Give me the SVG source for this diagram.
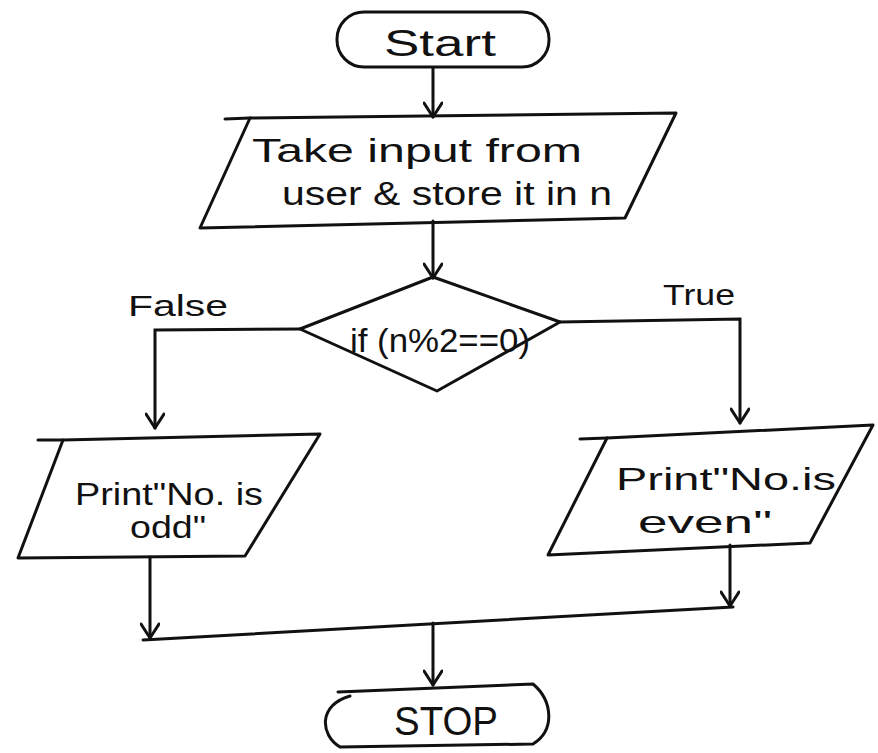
<svg xmlns="http://www.w3.org/2000/svg" width="878" height="753" viewBox="0 0 878 753">
  <defs>
    <style>
      .shape { fill: none; stroke: #111; stroke-width: 3; stroke-linejoin: round; stroke-linecap: round; }
      .wire { fill: none; stroke: #111; stroke-width: 3; stroke-linecap: round; }
      .lbl { font-family: "Liberation Sans", "DejaVu Sans", sans-serif; fill: #111; }
    </style>
    <!-- open V arrowhead, tip along the line direction -->
    <marker id="arrow" viewBox="0 0 20 20" refX="18" refY="10" markerWidth="20" markerHeight="20" markerUnits="userSpaceOnUse" orient="auto">
      <polyline points="4,1 18,10 4,19" fill="none" stroke="#111" stroke-width="3" stroke-linecap="round" stroke-linejoin="round"/>
    </marker>
  </defs>
  <rect width="878" height="753" fill="#fff"/>

  <!-- connectors -->
  <g id="connectors">
    <line class="wire" x1="433" y1="68" x2="433" y2="117" marker-end="url(#arrow)"/>
    <line class="wire" x1="433" y1="221" x2="433" y2="278" marker-end="url(#arrow)"/>
    <!-- false branch -->
    <polyline class="wire" points="300,329 155,330 155,428" marker-end="url(#arrow)"/>
    <!-- true branch -->
    <polyline class="wire" points="560,322 740,319 740,423" marker-end="url(#arrow)"/>
    <!-- outputs to merge line -->
    <line class="wire" x1="150" y1="557" x2="150" y2="638" marker-end="url(#arrow)"/>
    <line class="wire" x1="730" y1="545" x2="730" y2="606" marker-end="url(#arrow)"/>
    <line class="wire" x1="143" y1="640" x2="733" y2="607"/>
    <line class="wire" x1="433" y1="623" x2="433" y2="685" marker-end="url(#arrow)"/>
    <text class="lbl" x="178" y="316" font-size="30" text-anchor="middle" textLength="100" lengthAdjust="spacingAndGlyphs">False</text>
    <text class="lbl" x="699" y="305" font-size="30" text-anchor="middle" textLength="72" lengthAdjust="spacingAndGlyphs">True</text>
  </g>

  <!-- start terminal -->
  <g id="start">
    <rect class="shape" x="337" y="12" width="212" height="55" rx="27"/>
    <text class="lbl" x="440" y="56" font-size="36" text-anchor="middle" textLength="112" lengthAdjust="spacingAndGlyphs">Start</text>
  </g>

  <!-- input step -->
  <g id="input">
    <polygon class="shape" points="250,118 676,113 625,218 200,228"/>
    <line class="shape" x1="225" y1="119" x2="250" y2="118"/>
    <text class="lbl" x="417" y="162" font-size="34" text-anchor="middle" textLength="330" lengthAdjust="spacingAndGlyphs">Take input from</text>
    <text class="lbl" x="447" y="205" font-size="34" text-anchor="middle" textLength="330" lengthAdjust="spacingAndGlyphs">user &amp; store it in n</text>
  </g>

  <!-- decision -->
  <g id="decision">
    <polygon class="shape" points="433,277 560,322 437,391 300,329"/>
    <text class="lbl" x="440" y="352" font-size="34" text-anchor="middle" textLength="180" lengthAdjust="spacingAndGlyphs">if (n%2==0)</text>
  </g>

  <!-- odd output -->
  <g id="print-odd">
    <polygon class="shape" points="63,440 320,434 245,556 18,558"/>
    <line class="shape" x1="38" y1="440" x2="63" y2="440"/>
    <text class="lbl" x="169" y="505" font-size="32" text-anchor="middle" textLength="188" lengthAdjust="spacingAndGlyphs">Print"No. is</text>
    <text class="lbl" x="168" y="538" font-size="32" text-anchor="middle" textLength="76" lengthAdjust="spacingAndGlyphs">odd"</text>
  </g>

  <!-- even output -->
  <g id="print-even">
    <polygon class="shape" points="607,438 873,425 810,543 548,555"/>
    <line class="shape" x1="580" y1="439" x2="607" y2="438"/>
    <text class="lbl" x="726" y="490" font-size="32" text-anchor="middle" textLength="220" lengthAdjust="spacingAndGlyphs">Print"No.is</text>
    <text class="lbl" x="705" y="533" font-size="32" text-anchor="middle" textLength="134" lengthAdjust="spacingAndGlyphs">even"</text>
  </g>

  <!-- stop terminal -->
  <g id="stop">
    <path class="shape" d="M338,692 L533,684 C552,700 556,730 533,744 L340,747 C320,735 318,705 350,696"/>
    <text class="lbl" x="446" y="735" font-size="40" text-anchor="middle" textLength="104" lengthAdjust="spacingAndGlyphs">STOP</text>
  </g>
</svg>
